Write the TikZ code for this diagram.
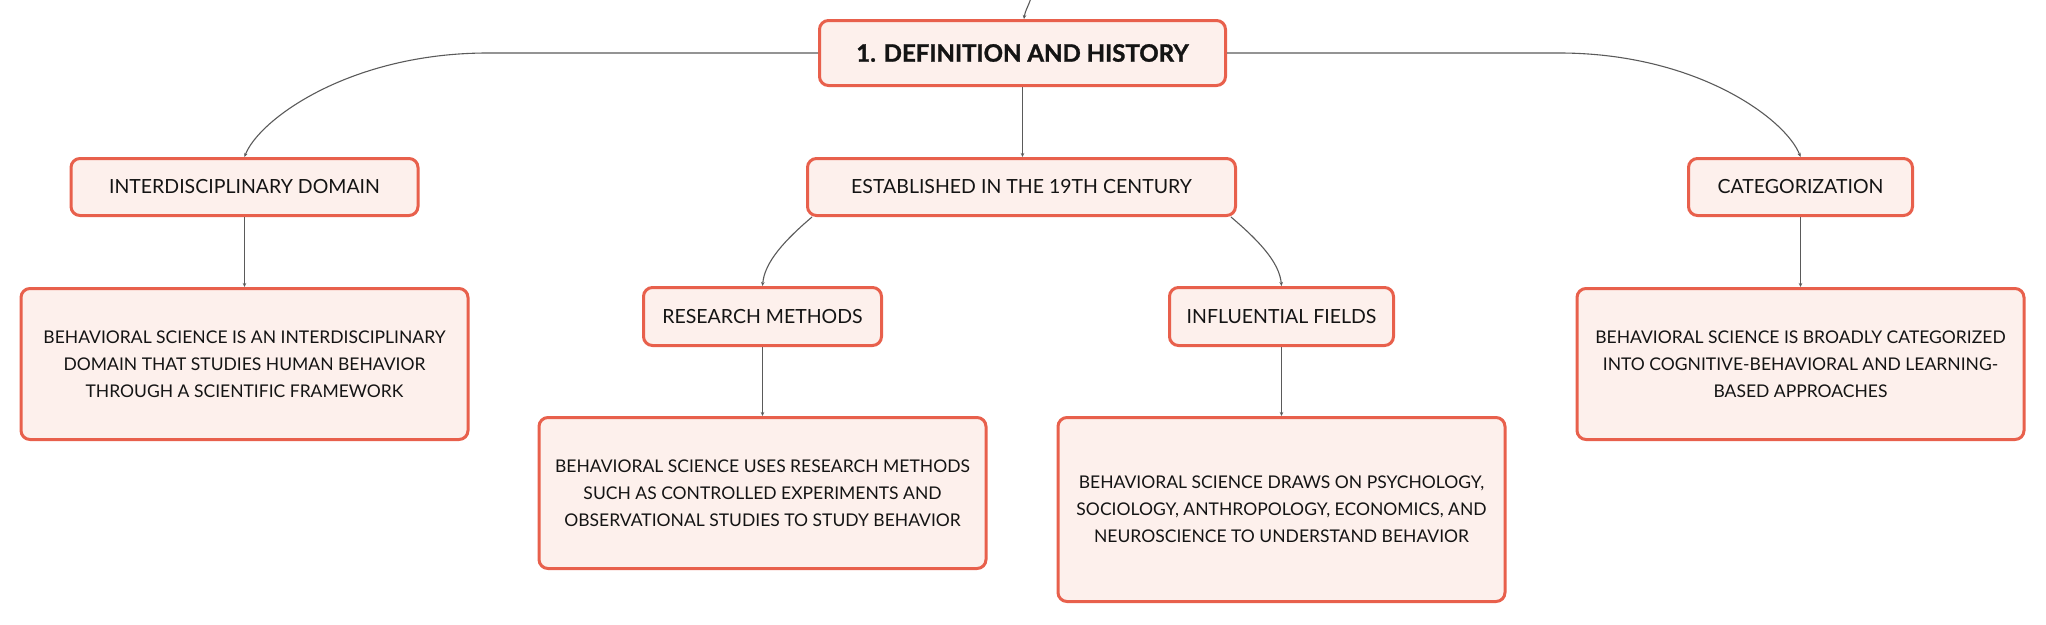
\documentclass[tikz,border=0pt]{standalone}
\usepackage{fontspec}
\setmainfont{Lato}
\newfontfamily\titlefont{Lato}[BoldFeatures={FakeBold=1.2}]
\usetikzlibrary{arrows.meta}
\definecolor{boxborder}{HTML}{E8604C}
\definecolor{boxfill}{HTML}{FDF0EC}
\definecolor{linegray}{HTML}{5A5A5A}
\definecolor{txt}{HTML}{141414}
\tikzset{
  box/.style={draw=boxborder, line width=3pt, fill=boxfill, rounded corners=9pt,
    text=txt, align=center, inner sep=0pt, anchor=center},
  titlebox/.style={box, font=\titlefont\fontsize{24}{28}\bfseries\selectfont},
  labelbox/.style={box, font=\fontsize{19.5}{24}\selectfont},
  leafbox/.style={box, font=\fontsize{17.5}{27}\selectfont},
  conn/.style={draw=linegray, line width=1.1pt, -{Stealth[length=4pt,width=3.5pt]}},
}
\begin{document}
\begin{tikzpicture}[x=1pt,y=-1pt]
\useasboundingbox (0,0) rectangle (2046,624);
% nodes
\node[titlebox, minimum width=406pt, minimum height=65pt] (title) at (1022.5,53) {1. DEFINITION AND HISTORY};
\node[labelbox, minimum width=347pt, minimum height=57pt] (inter) at (244.5,187) {INTERDISCIPLINARY DOMAIN};
\node[labelbox, minimum width=428pt, minimum height=57pt] (est) at (1021.5,187) {ESTABLISHED IN THE 19TH CENTURY};
\node[labelbox, minimum width=224pt, minimum height=57pt] (cat) at (1800.5,187) {CATEGORIZATION};
\node[labelbox, minimum width=238pt, minimum height=58pt] (res) at (762.5,316.5) {RESEARCH METHODS};
\node[labelbox, minimum width=224pt, minimum height=58pt] (inf) at (1281.5,316.5) {INFLUENTIAL FIELDS};
\node[leafbox, minimum width=447pt, minimum height=151pt] (leafA) at (244.5,364) {BEHAVIORAL SCIENCE IS AN INTERDISCIPLINARY\\DOMAIN THAT STUDIES HUMAN BEHAVIOR\\THROUGH A SCIENTIFIC FRAMEWORK};
\node[leafbox, minimum width=447pt, minimum height=151pt] (leafD) at (1800.5,364) {BEHAVIORAL SCIENCE IS BROADLY CATEGORIZED\\INTO COGNITIVE-BEHAVIORAL AND LEARNING-\\BASED APPROACHES};
\node[leafbox, minimum width=447pt, minimum height=151pt] (leafB) at (762.5,493) {BEHAVIORAL SCIENCE USES RESEARCH METHODS\\SUCH AS CONTROLLED EXPERIMENTS AND\\OBSERVATIONAL STUDIES TO STUDY BEHAVIOR};
\node[leafbox, minimum width=447pt, minimum height=184pt] (leafC) at (1281.5,509.5) {BEHAVIORAL SCIENCE DRAWS ON PSYCHOLOGY,\\SOCIOLOGY, ANTHROPOLOGY, ECONOMICS, AND\\NEUROSCIENCE TO UNDERSTAND BEHAVIOR};
% connectors
\coordinate (parent) at (1031,-2);
\draw[conn] (parent) .. controls +(-3,9) and +(1,-8) .. ([xshift=1.5pt]title.north);
\draw[conn] (title.south) -- (title.south |- est.north);
\draw[conn] (title.west) -- ++(-330,0) .. controls +(-139,0) and +(14,-37) .. (inter.north);
\draw[conn] (title.east) -- ++(332,0) .. controls +(139,0) and +(-14,-37) .. (cat.north);
\draw[conn] ([xshift=6pt]est.south west) .. controls +(-27,23) and +(2,-24) .. (res.north);
\draw[conn] ([xshift=-6pt]est.south east) .. controls +(27,23) and +(-2,-24) .. (inf.north);
\draw[conn] (inter.south) -- (leafA.north);
\draw[conn] (cat.south) -- (leafD.north);
\draw[conn] (res.south) -- (leafB.north);
\draw[conn] (inf.south) -- (leafC.north);
\end{tikzpicture}
\end{document}
